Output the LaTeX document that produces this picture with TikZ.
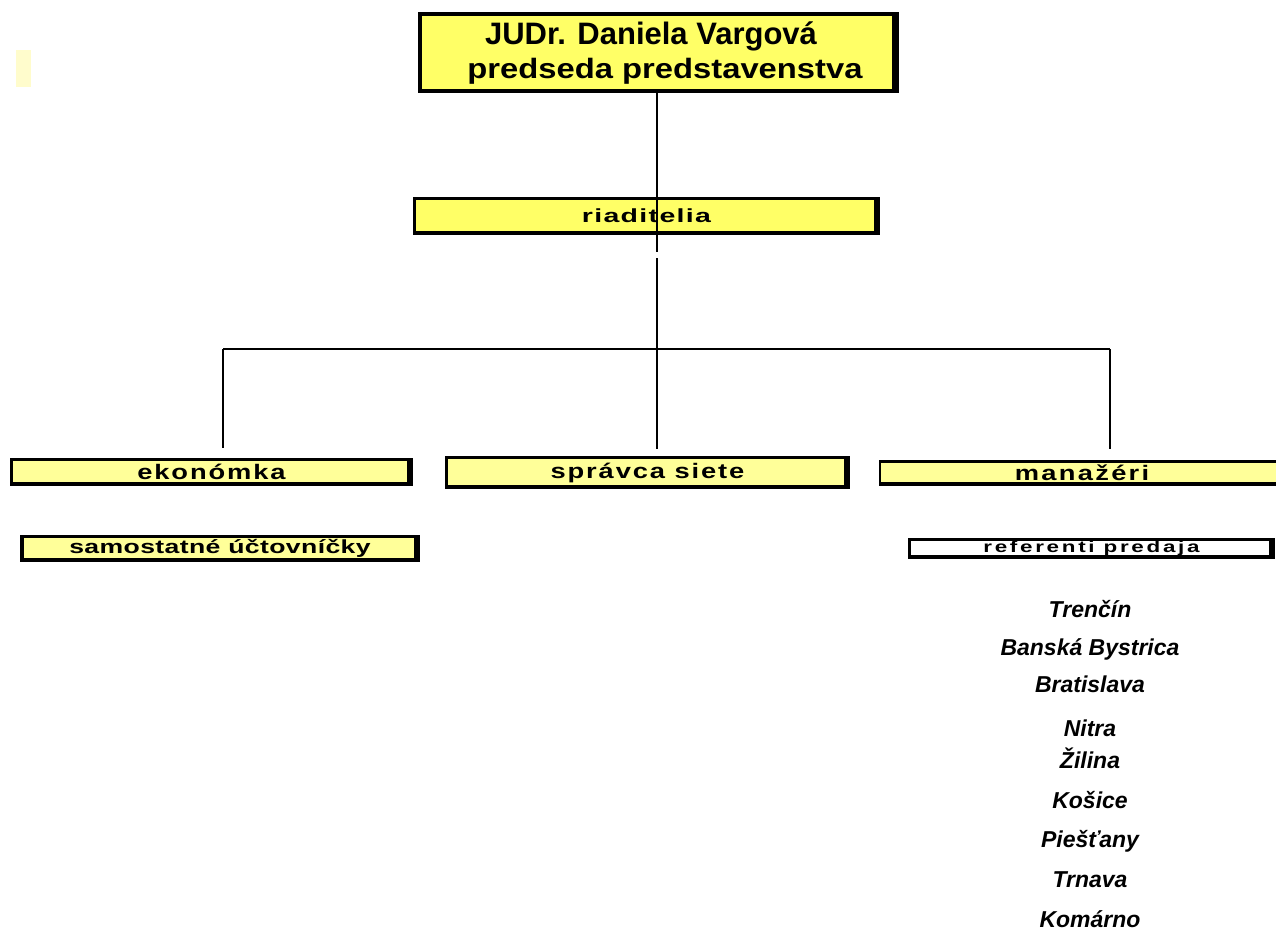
\documentclass[tikz,border=0pt]{standalone}
\usepackage{fontspec}
\setmainfont{Liberation Sans}
\begin{document}
\begin{tikzpicture}[x=1pt, y=-1pt,
	every node/.style={inner sep=0, outer sep=0},
	box/.style={draw, line width=2.5pt, fill=paleyel, minimum width=#1, align=center},
	lbl/.style={font=\bfseries\fontsize{21}{22}\selectfont\addfontfeatures{FakeStretch=1.3, LetterSpace=#1}},
	city/.style={anchor=base, font=\bfseries\itshape\fontsize{23}{26}\selectfont},
	conn/.style={line width=1.5pt}]
		\definecolor{paleyel}{HTML}{FFFF99}
		\definecolor{brightyel}{HTML}{FFFF66}
		\useasboundingbox (0,0) rectangle (1276,931);
		\fill[yellow!20] (16,50) rectangle (31,87);
		% boxes
		\node[box=477, fill=brightyel, minimum height=77, line width=4pt, font=\bfseries\fontsize{28}{29}\selectfont] (chair) at (658,53)
			{{\fontsize{31}{29}\selectfont JUDr. Daniela Vargov\'a}\hspace*{14pt}\\[5pt] \hspace*{14pt}{\addfontfeatures{FakeStretch=1.17}predseda predstavenstva}};
		\node[box=464, fill=brightyel, minimum height=35, font=\bfseries\fontsize{19}{22}\selectfont\addfontfeatures{FakeStretch=1.5, LetterSpace=7}] (dir) at (646.5,216) {riaditelia};
		\node[box=400, minimum height=25, lbl=9] (econ) at (211.5,472) {ekon\'omka};
		\node[box=402, minimum height=30, lbl=9] (net) at (647.5,472.5) {spr\'avca siete};
		\node[box=404, minimum height=23, lbl=11] (mgr) at (1082,473) {mana\v{z}\'eri};
		\node[box=397, minimum height=24, font=\bfseries\fontsize{19}{22}\selectfont\addfontfeatures{FakeStretch=1.4, LetterSpace=2}] (acc) at (220,548.5) {samostatn\'e \'u\v{c}tovn\'i\v{c}ky};
		\node[box=364, fill=white, minimum height=18, font=\bfseries\fontsize{16}{18}\selectfont\addfontfeatures{FakeStretch=1.4, LetterSpace=17}] (sales) at (1091.5,548.5) {referenti predaja};
		\foreach \n in {chair,dir,econ,net,mgr,acc,sales} {
			\draw[line width=6pt] ([xshift=-1.75pt]\n.north east) -- ([xshift=-1.75pt]\n.south east);
			\draw[line width=4pt] ([yshift=.75pt]\n.south west) -- ([yshift=.75pt]\n.south east);
		}
		\draw[line width=4pt] ([xshift=.75pt]acc.north west) -- ([xshift=.75pt]acc.south west);
		% lines
		\coordinate (gapA) at (657,252);
		\coordinate (gapB) at (657,258);
		\coordinate (L) at (223,349);
		\coordinate (R) at (1110,349);
		\draw[conn] (chair.south -| gapA) -- (gapA);
		\draw[conn] (gapB) -- ([yshift=9pt]net.north -| gapB);
		\draw[conn] (L) -- (R);
		\draw[conn] (L) -- ([yshift=12pt]econ.north -| L);
		\draw[conn] (R) -- ([yshift=13pt]mgr.north -| R);
		% cities
		\foreach \t/\y [count=\i] in {Tren\v{c}\'in/617, Bansk\'a Bystrica/655, Bratislava/692, Nitra/736, \v{Z}ilina/768, Ko\v{s}ice/808, Pie\v{s}\v{t}any/847, Trnava/887, Kom\'arno/927}
			\node[city] (city\i) at (1090,\y) {\t};
\end{tikzpicture}
\end{document}
